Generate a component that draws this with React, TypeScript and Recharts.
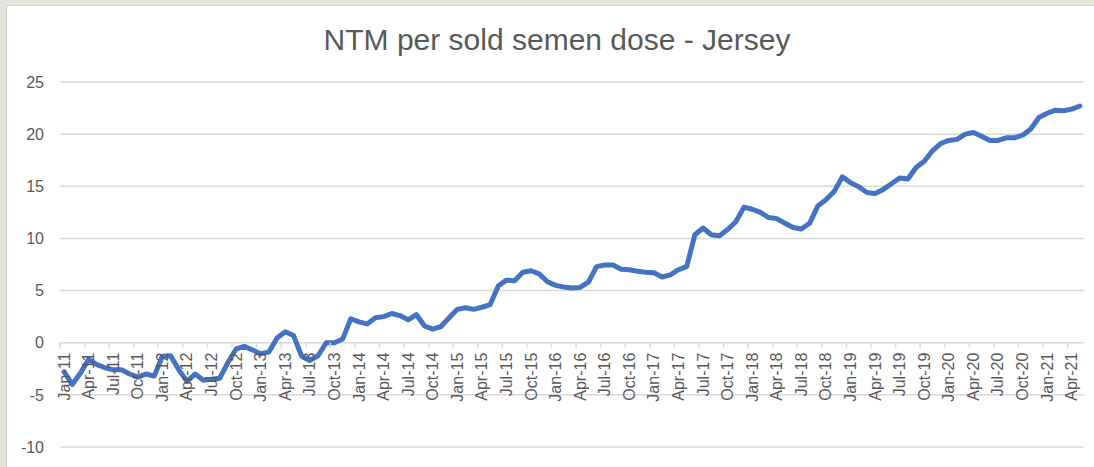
import React from 'react';
import { LineChart, Line, XAxis, YAxis, CartesianGrid } from 'recharts';

const MONTHS = ['Jan', 'Feb', 'Mar', 'Apr', 'May', 'Jun', 'Jul', 'Aug', 'Sep', 'Oct', 'Nov', 'Dec'];
const YEARS = ['11', '12', '13', '14', '15', '16', '17', '18', '19', '20', '21'];
// Jan-11 .. May-21
const categories: string[] = [];
YEARS.forEach((yr) => MONTHS.forEach((m) => categories.push(`${m}-${yr}`)));
categories.length = 125;

const ntm = [
  -2.8, -4.0, -2.9, -1.6, -2.1, -2.4, -2.6, -2.6, -3.0, -3.3, -3.0, -3.2,
  -1.3, -1.25, -2.6, -3.7, -3.0, -3.6, -3.5, -3.4, -1.9, -0.6, -0.35, -0.7,
  -1.05, -0.9, 0.45, 1.05, 0.7, -1.3, -1.7, -1.25, 0.0, 0.0, 0.35, 2.3,
  2.0, 1.8, 2.4, 2.5, 2.8, 2.6, 2.2, 2.7, 1.6, 1.3, 1.55, 2.4,
  3.2, 3.35, 3.2, 3.4, 3.65, 5.45, 6.0, 5.95, 6.75, 6.9, 6.6, 5.85,
  5.5, 5.35, 5.25, 5.3, 5.8, 7.3, 7.45, 7.45, 7.05, 7.0, 6.85, 6.75,
  6.7, 6.3, 6.5, 7.0, 7.3, 10.35, 11.0, 10.35, 10.25, 10.85, 11.6, 13.0,
  12.8, 12.5, 12.0, 11.9, 11.45, 11.05, 10.9, 11.45, 13.1, 13.7, 14.5, 15.9,
  15.35, 14.95, 14.4, 14.3, 14.7, 15.25, 15.8, 15.7, 16.8, 17.4, 18.4, 19.1,
  19.4, 19.5, 20.0, 20.15, 19.8, 19.4, 19.4, 19.65, 19.65, 19.9, 20.5, 21.6,
  22.0, 22.3, 22.25, 22.4, 22.7,
];

const yTicks = [-10, -5, 0, 5, 10, 15, 20, 25];

const data = categories.map((month, i) => ({ month, ntm: ntm[i] }));

const W = 1094;
const H = 467;
const M = { top: 82, right: 10, bottom: 19, left: 8 };
const Y_AXIS_W = 52;
const X_AXIS_H = 1;
const PLOT_W = W - M.left - M.right - Y_AXIS_W;
const PLOT_H = H - M.top - M.bottom - X_AXIS_H;
// distance from plot bottom (-10) up to the 0 line, where Excel puts the axis
const ZERO_SHIFT = (PLOT_H * (0 - yTicks[0])) / (yTicks[yTicks.length - 1] - yTicks[0]);

const TEXT = '#595959';
const GRID = '#d9d9d9';
const FONT = '"Liberation Sans", Arial, sans-serif';

const MonthTick = (props: any) => {
  const { x, y, payload } = props;
  const bw = PLOT_W / categories.length;
  const zy = y - ZERO_SHIFT;
  return (
    <g>
      <line x1={x - bw / 2} x2={x - bw / 2} y1={zy} y2={zy + 5} stroke={GRID} strokeWidth={1.5} />
      <text
        transform={`translate(${x + 5.5},${zy + 10}) rotate(-90)`}
        textAnchor="end"
        fill={TEXT}
        fontSize={16}
        fontFamily={FONT}
      >
        {payload.value}
      </text>
    </g>
  );
};

export default function App() {
  return (
    <div style={{ position: 'fixed', left: 0, top: 0, width: W, height: H, background: '#e3e7db', overflow: 'hidden' }}>
      <div
        style={{
          position: 'absolute', left: 6, top: 5, width: W, height: H,
          background: '#fff', borderLeft: '1px solid #cfd1cb', borderTop: '1px solid #cfd1cb',
        }}
      />
      <div style={{ position: 'absolute', left: 0, top: 0 }}>
        <LineChart width={W} height={H} data={data} margin={M}>
          <CartesianGrid vertical={false} stroke={GRID} strokeWidth={1.5} />
          <XAxis
            dataKey="month"
            scale="band"
            interval={2}
            height={X_AXIS_H}
            axisLine={false}
            tickLine={false}
            tickSize={0}
            tickMargin={0}
            tick={<MonthTick />}
          />
          <YAxis
            domain={[-10, 25]}
            ticks={yTicks}
            width={Y_AXIS_W}
            axisLine={false}
            tickLine={false}
            tickSize={0}
            tickMargin={16}
            tick={{ fill: TEXT, fontSize: 16, fontFamily: FONT }}
          />
          <Line
            dataKey="ntm"
            type="linear"
            stroke="#4472c4"
            strokeWidth={5}
            strokeLinejoin="round"
            strokeLinecap="round"
            dot={false}
            activeDot={false}
            isAnimationActive={false}
          />
        </LineChart>
      </div>
      <svg style={{ position: 'absolute', left: 0, top: 0 }} width={W} height={70}>
        <text x={557} y={50} textAnchor="middle" fill={TEXT} fontSize={30} fontFamily={FONT}>
          NTM per sold semen dose - Jersey
        </text>
      </svg>
    </div>
  );
}
